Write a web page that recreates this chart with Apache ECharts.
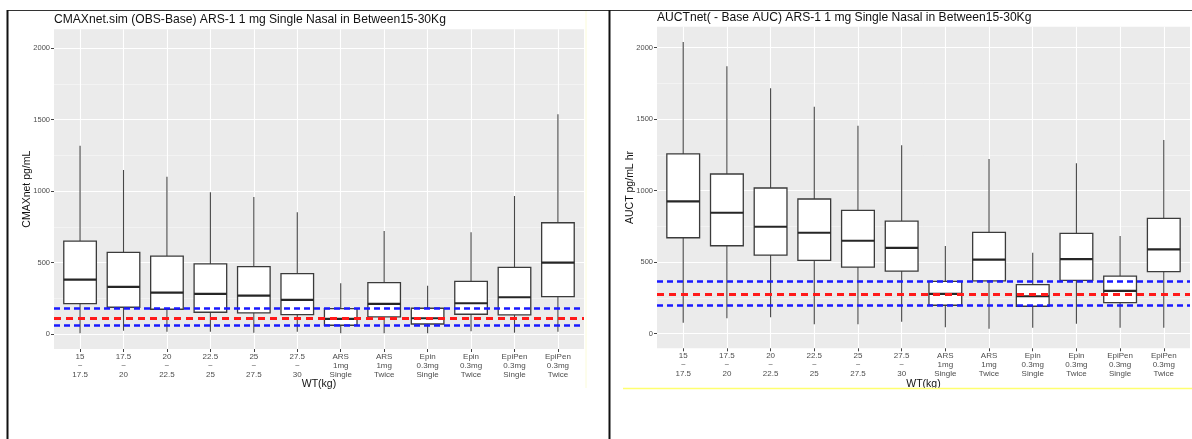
<!DOCTYPE html>
<html>
<head>
<meta charset="utf-8">
<script src="https://cdn.jsdelivr.net/npm/echarts@6/dist/echarts.min.js"></script>
<style>
  html, body { margin: 0; padding: 0; background: #ffffff; }
  #chart { width: 1192px; height: 439px; }
</style>
</head>
<body>
<div id="chart"></div>
<script>
// Weight bands and dosing groups along the x axis
const categories = [
  '15\n~\n17.5', '17.5\n~\n20', '20\n~\n22.5', '22.5\n~\n25', '25\n~\n27.5', '27.5\n~\n30',
  'ARS\n1mg\nSingle', 'ARS\n1mg\nTwice', 'Epin\n0.3mg\nSingle', 'Epin\n0.3mg\nTwice',
  'EpiPen\n0.3mg\nSingle', 'EpiPen\n0.3mg\nTwice'
];

// Box statistics per group: [lower whisker, Q1, median, Q3, upper whisker]
const cmaxStats = [
  [5, 212, 380, 650, 1317],
  [23, 187, 329, 571, 1147],
  [16, 173, 289, 545, 1100],
  [16, 152, 280, 490, 991],
  [9, 147, 268, 471, 958],
  [16, 135, 238, 422, 851],
  [5, 61, 105, 177, 354],
  [5, 119, 210, 359, 720],
  [5, 70, 110, 180, 338],
  [19, 138, 215, 368, 711],
  [9, 133, 257, 466, 965],
  [16, 261, 499, 778, 1536]
];

const aucStats = [
  [77, 671, 926, 1257, 2040],
  [108, 615, 846, 1117, 1870],
  [115, 550, 748, 1019, 1716],
  [66, 513, 706, 942, 1587],
  [66, 466, 650, 863, 1455],
  [84, 438, 600, 788, 1318],
  [45, 199, 278, 366, 613],
  [35, 369, 518, 709, 1222],
  [42, 192, 262, 343, 567],
  [70, 373, 522, 702, 1192],
  [42, 217, 299, 403, 683],
  [42, 434, 590, 807, 1355]
];

// Reference band (ARS-1 1 mg single): [Q1, median, Q3]
const cmaxReference = [58, 110, 180];
const aucReference = [199, 278, 366];

// Y tick values
const yMajorTicks = [0, 500, 1000, 1500, 2000];
const yMinorTicks = [250, 750, 1250, 1750];

const titles = [
  'CMAXnet.sim (OBS-Base) ARS-1 1 mg Single Nasal in Between15-30Kg',
  'AUCTnet( - Base AUC) ARS-1 1 mg Single Nasal in Between15-30Kg'
];
const yNames = ['CMAXnet pg/mL', 'AUCT pg/mL hr'];
const xName = 'WT(kg)';

const FONT = '"Liberation Sans", Arial, sans-serif';
const catIndex = categories.map((_, i) => i);

const panels = [
  { grid: { left: 54, top: 29.3, width: 530, height: 319.7 }, yMin: -105, yMax: 2131, stats: cmaxStats, ref: cmaxReference, titleLeft: 54, titleTop: 13.5 },
  { grid: { left: 657, top: 26.7, width: 533, height: 321.6 }, yMin: -102, yMax: 2147, stats: aucStats, ref: aucReference, titleLeft: 657, titleTop: 11.5 }
];

function renderBox(params, api) {
  const x = api.value(0);
  const lo = api.coord([x, api.value(1)]);
  const q1 = api.coord([x, api.value(2)]);
  const md = api.coord([x, api.value(3)]);
  const q3 = api.coord([x, api.value(4)]);
  const hi = api.coord([x, api.value(5)]);
  const half = api.size([0.75, 0])[0] / 2;
  const cx = lo[0];
  const edge = '#3b3b3b';
  return {
    type: 'group',
    children: [
      { type: 'line', shape: { x1: cx, y1: hi[1], x2: cx, y2: q3[1] }, style: { stroke: '#474747', lineWidth: 1.1 } },
      { type: 'line', shape: { x1: cx, y1: q1[1], x2: cx, y2: lo[1] }, style: { stroke: '#474747', lineWidth: 1.1 } },
      { type: 'rect', shape: { x: cx - half, y: q3[1], width: half * 2, height: q1[1] - q3[1] }, style: { fill: '#ffffff', stroke: edge, lineWidth: 1.3 } },
      { type: 'line', shape: { x1: cx - half, y1: md[1], x2: cx + half, y2: md[1] }, style: { stroke: '#262626', lineWidth: 2.2 } }
    ]
  };
}

const grids = [], xAxes = [], yAxes = [], series = [], titleList = [];

panels.forEach((p, i) => {
  grids.push(Object.assign({ show: true, backgroundColor: '#ebebeb', borderWidth: 0, containLabel: false }, p.grid));

  titleList.push({
    text: titles[i], left: p.titleLeft, top: p.titleTop, padding: 0,
    textStyle: { fontFamily: FONT, fontSize: 12.1, fontWeight: 'normal', color: '#111111' }
  });

  xAxes.push({
    type: 'value', gridIndex: i, min: -0.6, max: 11.6,
    axisLine: { show: false, onZero: false },
    axisTick: { show: true, customValues: catIndex, length: 3, lineStyle: { color: '#444444', width: 1 } },
    axisLabel: {
      customValues: catIndex, formatter: v => categories[Math.round(v)],
      fontFamily: FONT, fontSize: 8, lineHeight: 9, color: '#4d4d4d', margin: 3
    },
    splitLine: { show: true, lineStyle: { color: '#ffffff', width: 1.1 } },
    name: xName, nameLocation: 'middle', nameGap: 30, nameMoveOverlap: false,
    nameTextStyle: { fontFamily: FONT, fontSize: 10.5, color: '#111111' }
  });

  // major y axis
  yAxes.push({
    type: 'value', gridIndex: i, min: p.yMin, max: p.yMax,
    axisLine: { show: false, onZero: false },
    axisTick: { show: true, customValues: yMajorTicks, length: 3, lineStyle: { color: '#444444', width: 1 } },
    axisLabel: { customValues: yMajorTicks, formatter: v => String(v), fontFamily: FONT, fontSize: 7.5, color: '#4d4d4d', margin: 4 },
    splitLine: { show: true, lineStyle: { color: '#ffffff', width: 1.2 } },
    name: yNames[i], nameLocation: 'middle', nameRotate: 90, nameGap: 21, nameMoveOverlap: false,
    nameTextStyle: { fontFamily: FONT, fontSize: 10.5, color: '#111111' }
  });
  // minor y grid lines
  yAxes.push({
    type: 'value', gridIndex: i, min: p.yMin, max: p.yMax,
    axisLine: { show: false, onZero: false },
    axisTick: { show: false, customValues: yMinorTicks },
    axisLabel: { show: false, customValues: yMinorTicks },
    splitLine: { show: true, lineStyle: { color: '#f5f5f5', width: 0.8 } }
  });

  series.push({
    type: 'custom', xAxisIndex: i, yAxisIndex: i * 2, z: 3,
    renderItem: renderBox,
    dimensions: ['group', 'low', 'q1', 'median', 'q3', 'high'],
    encode: { x: 0, y: [1, 2, 3, 4, 5] },
    data: p.stats.map((s, k) => [k].concat(s)),
    silent: true
  });

  const dashBlue = { color: '#1a1aff', width: 2.6, type: [6, 4] };
  const dashRed = { color: '#ff1a1a', width: 2.8, type: [7, 5] };
  series.push({
    type: 'line', xAxisIndex: i, yAxisIndex: i * 2, z: 6, data: [],
    markLine: {
      silent: true, symbol: 'none', animation: false,
      label: { show: false },
      data: [
        { yAxis: p.ref[0], lineStyle: dashBlue },
        { yAxis: p.ref[1], lineStyle: dashRed },
        { yAxis: p.ref[2], lineStyle: dashBlue }
      ]
    }
  });
});

const chart = echarts.init(document.getElementById('chart'), null, { renderer: 'canvas' });
chart.setOption({
  animation: false,
  backgroundColor: '#ffffff',
  title: titleList,
  grid: grids,
  xAxis: xAxes,
  yAxis: yAxes,
  series: series,
  graphic: [
    // frame lines around the two panels
    { type: 'line', shape: { x1: 7, y1: 10.5, x2: 1192, y2: 10.5 }, style: { stroke: '#333333', lineWidth: 1.2 }, z: 10 },
    { type: 'line', shape: { x1: 7.5, y1: 10, x2: 7.5, y2: 439 }, style: { stroke: '#111111', lineWidth: 2 }, z: 10 },
    { type: 'line', shape: { x1: 609.5, y1: 10, x2: 609.5, y2: 439 }, style: { stroke: '#111111', lineWidth: 2 }, z: 10 },
    // pale yellow edges of the pasted plots
    { type: 'line', shape: { x1: 586, y1: 11, x2: 586, y2: 388 }, style: { stroke: '#fbfbd8', lineWidth: 1 }, z: 10 },
    { type: 'line', shape: { x1: 623, y1: 388.5, x2: 1192, y2: 388.5 }, style: { stroke: '#ffff70', lineWidth: 1.5 }, z: 10 }
  ]
});
</script>
</body>
</html>
